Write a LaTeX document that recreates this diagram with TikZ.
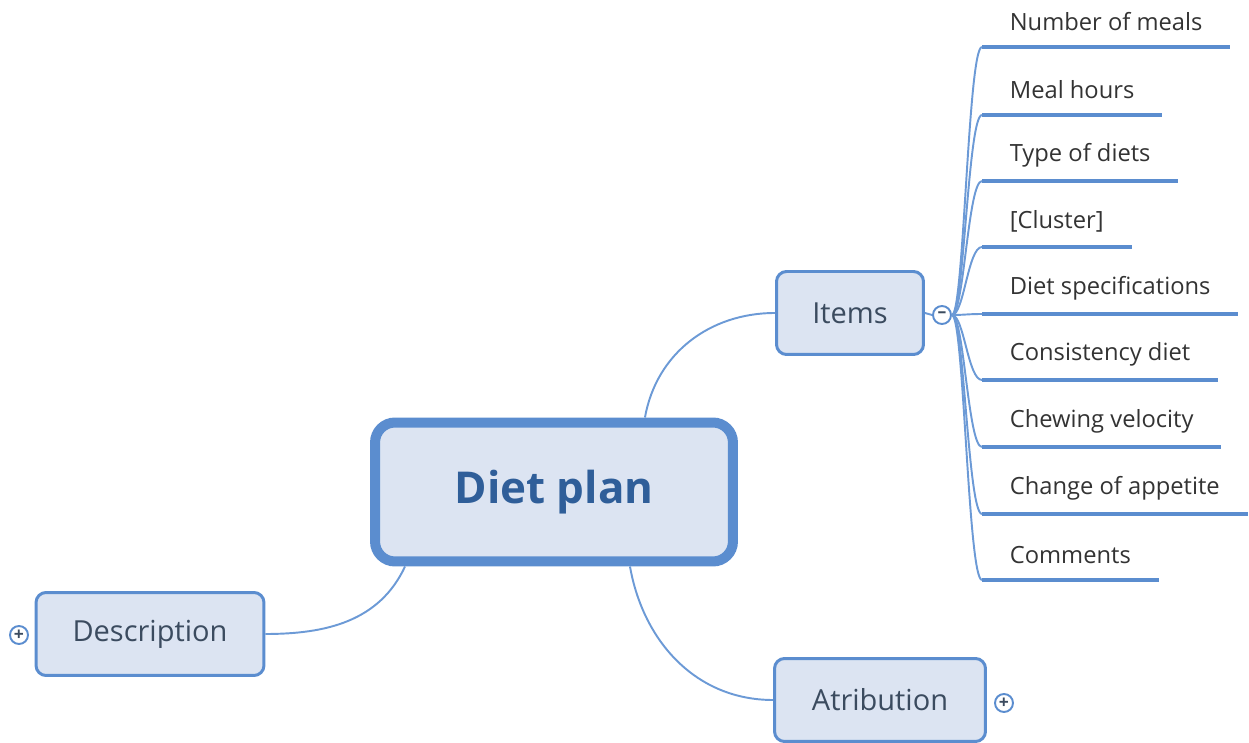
\documentclass[tikz,border=0pt]{standalone}
\usepackage{fontspec}
\setmainfont{Open Sans}
\definecolor{edge}{HTML}{5B8DCF}
\definecolor{boxfill}{HTML}{DCE4F2}
\definecolor{wire}{HTML}{6C9AD6}
\definecolor{inktext}{HTML}{3B4B5F}
\definecolor{roottext}{HTML}{2F5E99}
\definecolor{leaftext}{HTML}{333333}
\tikzset{
  root/.style={draw=edge, fill=boxfill, line width=5.7pt, rounded corners=0.4cm,
    minimum width=7.16cm, minimum height=2.78cm, text=roottext,
    font=\fontsize{25}{30}\selectfont\bfseries},
  topic/.style={draw=edge, fill=boxfill, line width=1.7pt, rounded corners=0.2cm,
    minimum height=1.66cm, text=inktext, font=\fontsize{16.5}{20}\selectfont},
  leaf/.style={anchor=south west, inner xsep=0.55cm, inner ysep=0pt,
    minimum height=1cm, text=leaftext, font=\fontsize{13.5}{16}\selectfont},
  wire/.style={draw=wire, line width=1.1pt},
  bar/.style={draw=edge, line width=2.8pt},
  fold/.style={circle, draw=edge, fill=white, line width=1.1pt, minimum size=0.36cm,
    inner sep=0pt, text=inktext, font=\fontsize{10}{10}\selectfont\bfseries},
}
\begin{document}
\begin{tikzpicture}[x=0.02cm, y=-0.02cm]
  \useasboundingbox (0,0) rectangle (1249,743);
  % central topic and main branches
  \node[root] (plan) at (554,492) {Diet plan};
  \node[topic, minimum width=2.94cm] (items) at (850,313) {Items};
  \node[topic, minimum width=4.56cm] (descr) at (150,634) {Description};
  \node[topic, minimum width=4.22cm] (attr) at (880,700) {Atribution};
  \node[fold] (minus) at (942,315) {–};
  \node[fold] (plusd) at (19,635) {+};
  \node[fold] (plusa) at (1004,703) {+};
  \draw[wire] ([xshift=1.82cm]plan.north) to[out=80, in=180] (items.west);
  \draw[wire] ([xshift=-2.98cm]plan.south) to[out=-115, in=0] (descr.east);
  \draw[wire] ([xshift=1.52cm]plan.south) to[out=-80, in=180] (attr.west);
  \draw[wire] (items.east) -- (minus.west);
  % sub topics of Items
  \node[leaf] (l1) at (982,47) {Number of meals};
  \node[leaf] (l2) at (982,115) {Meal hours};
  \node[leaf] (l3) at (982,181) {Type of diets};
  \node[leaf] (l4) at (982,247) {[Cluster]};
  \node[leaf] (l5) at (982,314) {Diet specifications};
  \node[leaf] (l6) at (982,380) {Consistency diet};
  \node[leaf] (l7) at (982,447) {Chewing velocity};
  \node[leaf] (l8) at (982,514) {Change of appetite};
  \node[leaf] (l9) at (982,580) {Comments};
  \foreach \n in {1,...,9} {
    \draw[wire] (minus.east) .. controls +(12,0) and +(-14,0) .. (l\n.south west);
    \draw[bar] (l\n.south west) -- (l\n.south east);
  }
\end{tikzpicture}
\end{document}
